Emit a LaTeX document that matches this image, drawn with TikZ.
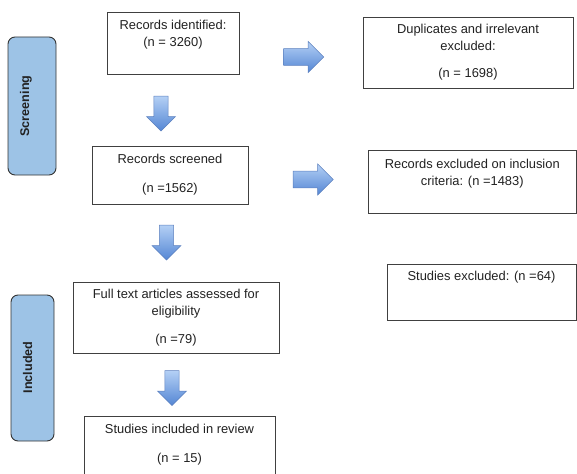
\documentclass[tikz,border=0pt]{standalone}
\usepackage{fontspec}
\setmainfont{Liberation Sans}
\usetikzlibrary{shapes.arrows}
\definecolor{lanefill}{RGB}{157,195,230}
\definecolor{arrowtop}{RGB}{180,208,245}
\definecolor{arrowbot}{RGB}{84,134,212}
\definecolor{arrowedge}{RGB}{92,128,190}
\definecolor{boxedge}{RGB}{64,64,64}
\definecolor{ink}{RGB}{34,34,34}

\begin{document}
\begin{tikzpicture}[x=1pt, y=-1pt,
          box/.style={draw=boxedge,line width=0.8pt,fill=white,align=center,text=ink,font=\fontsize{12.9}{17}\selectfont},
          toptext/.style={anchor=north,align=center,text=ink,font=\fontsize{12.9}{17}\selectfont,inner xsep=2pt,inner ysep=#1},
          lane/.style={draw=black!80,line width=0.9pt,fill=lanefill,rounded corners=7pt},
          lanetext/.style={rotate=90,text=ink,font=\fontsize{12.6}{14}\selectfont\bfseries},
          darrow/.style={single arrow,shape border rotate=270,draw=arrowedge,line width=0.5pt,top color=arrowtop,bottom color=arrowbot,inner sep=6.5pt,minimum height=35pt,minimum width=29pt},
          rarrow/.style={single arrow,draw=arrowedge,line width=0.5pt,top color=arrowtop,bottom color=arrowbot,inner sep=8pt,minimum height=40pt,minimum width=31pt}
      ]
        \useasboundingbox (0,0) rectangle (577,473);
        \node[lane,minimum width=48pt,minimum height=138pt]   (screening)   at (32,106) {};
        \node[lanetext]                                        (screening-t) at (26,106) {Screening};
        \node[lane,minimum width=43pt,minimum height=146pt]   (included)    at (32.5,368) {};
        \node[lanetext]                                        (included-t)  at (27.5,367.5) {Included};
        \node[box,minimum width=132pt,minimum height=62pt,
              label={[toptext=8.5pt]north:{Records identified:\\(n = 3260)}}] (ident) at (173,43) {};
        \node[box,minimum width=210pt,minimum height=71pt]    (dupl)     at (468,52.5) {Duplicates and irrelevant\\excluded:\\[10pt](n = 1698)};
        \node[box,minimum width=156pt,minimum height=58pt]    (screened) at (170,175) {Records screened\\[12pt](n =1562)};
        \node[box,minimum width=208.5pt,minimum height=63pt,
              label={[toptext=9.5pt]north:{Records excluded on inclusion\\criteria: (n =1483)}}] (exclincl) at (472.25,181.5) {};
        \node[box,minimum width=189pt,minimum height=56pt,
              label={[toptext=7.5pt]north:{Studies excluded: (n =64)}}] (studexcl) at (481.5,292) {};
        \node[box,minimum width=206pt,minimum height=71pt]    (fulltext) at (176,317.5) {Full text articles assessed for\\eligibility\\[11pt](n =79)};
        \node[box,minimum width=191pt,minimum height=58pt]    (inreview) at (179.5,445) {Studies included in review\\[12pt](n = 15)};
        \node[darrow] (d1) at (161,110) {};
        \node[darrow] (d2) at (166.5,239) {};
        \node[darrow] (d3) at (172,384.5) {};
        \node[rarrow] (r1) at (299.5,57) {};
        \node[rarrow] (r2) at (309,179.5) {};
      \end{tikzpicture}
\end{document}
